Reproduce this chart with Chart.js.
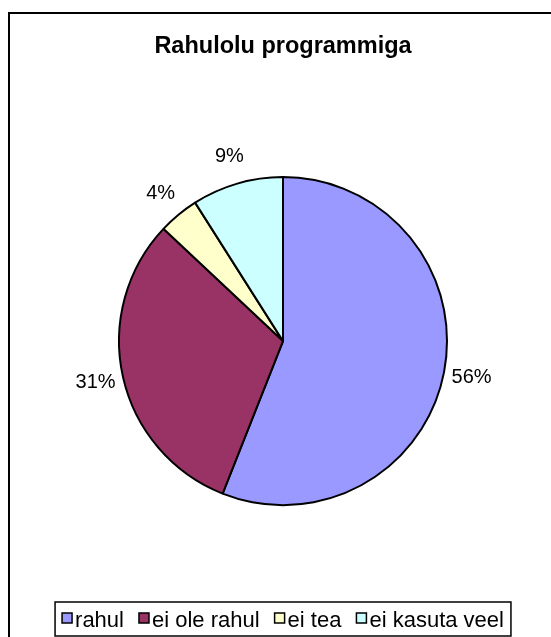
<!DOCTYPE html>
<html>
<head>
<meta charset="utf-8">
<title>Rahulolu programmiga</title>
<script src="https://cdn.jsdelivr.net/npm/chart.js@4/dist/chart.umd.min.js"></script>
<style>
    body { margin: 0; background: #fff; }
    canvas { display: block; }
</style>
</head>
<body>
<canvas id="myChart" width="551" height="637"></canvas>
<script>
// andmed
const categories = ['rahul', 'ei ole rahul', 'ei tea', 'ei kasuta veel'];
const shares = [56, 31, 4, 9];
const sliceColors = ['#9999FF', '#993366', '#FFFFCC', '#CCFFFF'];

const fontFamily = '"Liberation Sans", Arial, sans-serif';

// valge taust ja raam
const frame = {
    id: 'frame',
    beforeDraw(chart) {
        const c = chart.ctx;
        c.save();
        c.fillStyle = '#fff';
        c.fillRect(0, 0, chart.width, chart.height);
        c.lineWidth = 2;
        c.strokeStyle = '#000';
        c.strokeRect(9, 13, 600, 700);
        c.restore();
    }
};

// protsendid sektorite kõrval
const percentLabels = {
    id: 'percentLabels',
    afterDatasetsDraw(chart) {
        const c = chart.ctx;
        const values = chart.data.datasets[0].data;
        const total = values.reduce((a, b) => a + b, 0);
        c.save();
        c.font = '20px ' + fontFamily;
        c.fillStyle = '#000';
        c.textAlign = 'center';
        c.textBaseline = 'middle';
        chart.getDatasetMeta(0).data.forEach((arc, i) => {
            const p = arc.getProps(['x', 'y', 'startAngle', 'endAngle', 'outerRadius'], true);
            const mid = (p.startAngle + p.endAngle) / 2;
            const r = p.outerRadius + 28;
            c.fillText(Math.round(values[i] / total * 100) + '%',
                p.x + Math.cos(mid) * r, p.y + Math.sin(mid) * r);
        });
        c.restore();
    }
};

// legend raamiga all
const legendBox = {
    id: 'legendBox',
    afterDraw(chart) {
        const c = chart.ctx;
        const labels = chart.data.labels;
        const colors = chart.data.datasets[0].backgroundColor;
        const square = 10, textGap = 3, itemGap = 15;
        c.save();
        c.font = '22px ' + fontFamily;
        const widths = labels.map(l => c.measureText(l).width);
        const total = widths.reduce((a, w) => a + square + textGap + w, 0) + itemGap * (labels.length - 1);
        let x = (chart.chartArea.left + chart.chartArea.right) / 2 - total / 2;

        c.lineWidth = 1.5;
        c.strokeStyle = '#000';
        c.strokeRect(x - 7, 602, total + 14, 34);

        labels.forEach((l, i) => {
            c.fillStyle = colors[i];
            c.fillRect(x, 613, square, square);
            c.strokeRect(x, 613, square, square);
            c.fillStyle = '#000';
            c.textBaseline = 'alphabetic';
            c.fillText(l, x + square + textGap, 627);
            x += square + textGap + widths[i] + itemGap;
        });
        c.restore();
    }
};

const ctx = document.getElementById('myChart').getContext('2d');

const myChart = new Chart(ctx, {
    type: 'pie',
    data: {
        labels: categories,
        datasets: [{
            data: shares,
            backgroundColor: sliceColors,
            borderColor: '#000',
            borderWidth: 2,
            hoverOffset: 0
        }]
    },
    options: {
        responsive: false,
        animation: false,
        events: [],
        layout: {
            padding: { top: 12, left: 118, right: 103, bottom: 15 }
        },
        plugins: {
            legend: { display: false },
            tooltip: { enabled: false },
            title: {
                display: true,
                text: 'Rahulolu programmiga',
                color: '#000',
                font: { family: fontFamily, size: 23.5, weight: 'bold' },
                padding: { top: 20, bottom: 0 }
            }
        }
    },
    plugins: [frame, percentLabels, legendBox]
});
</script>
</body>
</html>
